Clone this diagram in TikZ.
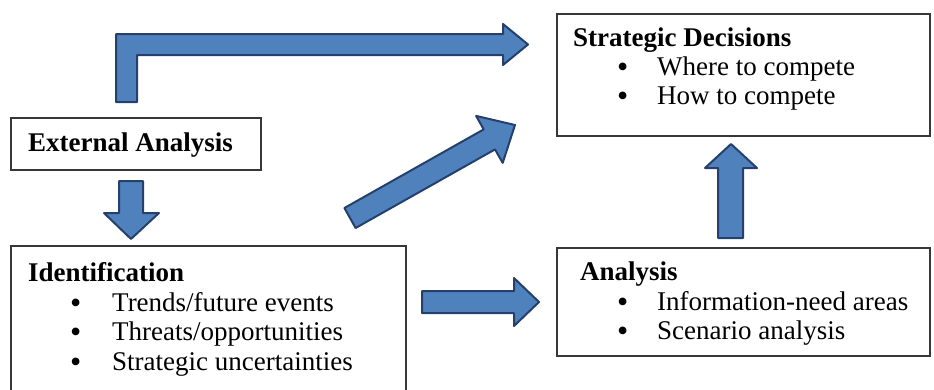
\documentclass[tikz,border=0pt]{standalone}
\usepackage{fontspec}
\setmainfont{Liberation Serif}
\definecolor{arrowfill}{RGB}{79,129,189}
\definecolor{arrowline}{RGB}{37,64,109}
\definecolor{boxline}{RGB}{55,55,55}
\begin{document}
\begin{tikzpicture}[x=1pt,y=-1pt,
  box/.style={draw=boxline, line width=1.6pt, fill=white, anchor=north west, inner sep=0pt},
  txt/.style={anchor=base west, inner sep=0pt, font=\fontsize{27}{30}\selectfont},
  bul/.style={anchor=base west, inner sep=0pt, font=\fontsize{32}{32}\selectfont},
  headtxt/.style={anchor=base west, inner sep=0pt, font=\fontsize{27}{30}\selectfont\bfseries},
  blk/.style={fill=arrowfill, draw=arrowline, line width=2pt, line join=round}]
\useasboundingbox (0,0) rectangle (934,389);

% boxes
\node[box, minimum width=373pt, minimum height=122pt] (sd) at (556,13) {};
\node[box, minimum width=250pt, minimum height=52pt] (ea) at (10,117) {};
\node[box, minimum width=395pt, minimum height=147pt] (id) at (10,245) {};
\node[box, minimum width=373pt, minimum height=108pt] (an) at (556,247) {};

% Strategic Decisions
\node[headtxt] (sdh) at (573,46) {Strategic Decisions};
\node[bul] (sdb1) at (617,77) {•};
\node[txt] (sdi1) at (657,75) {Where to compete};
\node[bul] (sdb2) at (617,106) {•};
\node[txt] (sdi2) at (657,104) {How to compete};

% External Analysis
\node[headtxt] (eah) at (28,151) {External Analysis};

% Identification
\node[headtxt] (idh) at (28,281) {Identification};
\node[bul] (idb1) at (70,313) {•};
\node[txt] (idi1) at (112,311) {Trends/future events};
\node[bul] (idb2) at (70,342) {•};
\node[txt] (idi2) at (112,340) {Threats/opportunities};
\node[bul] (idb3) at (70,372) {•};
\node[txt] (idi3) at (112,370) {Strategic uncertainties};

% Analysis
\node[headtxt] (anh) at (580,280) {Analysis};
\node[bul] (anb1) at (617,312) {•};
\node[txt] (ani1) at (657,310) {Information-need areas};
\node[bul] (anb2) at (617,341) {•};
\node[txt] (ani2) at (657,339) {Scenario analysis};

% block arrows
% elbow: External Analysis -> Strategic Decisions
\draw[blk] (116,102) -- (116,34) -- (503,34) -- (503,24) -- (528,44.5) -- (503,65) -- (503,55) -- (137,55) -- (137,102) -- cycle;
% down: External Analysis -> Identification
\draw[blk] (119,181) -- (143,181) -- (143,213) -- (159,213) -- (131,239) -- (104,213) -- (119,213) -- cycle;
% diagonal: Identification -> Strategic Decisions
\draw[blk] (344.4,208.0) -- (483.7,129.4) -- (476.1,115.9) -- (515,125) -- (502.7,162.9) -- (495.0,149.4) -- (355.6,228.0) -- cycle;
% right: Identification -> Analysis
\draw[blk] (422,291) -- (514,291) -- (514,278) -- (539,302) -- (514,326) -- (514,313) -- (422,313) -- cycle;
% up: Analysis -> Strategic Decisions
\draw[blk] (718,238) -- (718,168) -- (705,168) -- (731,144) -- (757,168) -- (743,168) -- (743,238) -- cycle;
\end{tikzpicture}
\end{document}
